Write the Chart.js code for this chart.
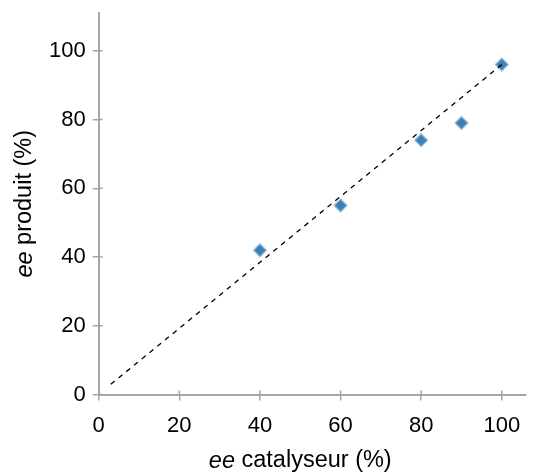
<!DOCTYPE html>
<html>
<head>
<meta charset="utf-8">
<script src="https://cdn.jsdelivr.net/npm/chart.js@4"></script>
<style>
  html, body { margin: 0; padding: 0; background: #fff; overflow: hidden; }
  canvas { display: block; }
</style>
</head>
<body>
<canvas id="chart" width="534" height="474"></canvas>
<script>
// Data
const catalystEe = [40, 60, 80, 90, 100];
const productEe = [42, 55, 74, 79, 96];
// dashed trend line endpoints
const trendX = [3, 100];
const trendY = [3, 96];
const tickValues = [0, 20, 40, 60, 80, 100];

const xTitle = ['ee', ' catalyseur (%)'];
const yTitle = ['ee', ' produit (%)'];

const FONT = 'Liberation Sans, Arial, sans-serif';
const AXIS_GREY = '#a6a6a6';
const TITLE_SIZE = 23.5;

// axis titles with italic "ee", plus short inward tick marks
const axisTitles = {
    id: 'axisTitles',
    afterDraw(chart) {
        const ctx = chart.ctx;
        const xs = chart.scales.x, ys = chart.scales.y;
        ctx.save();

        // inward tick stubs
        ctx.strokeStyle = AXIS_GREY;
        ctx.lineWidth = 1.5;
        ctx.beginPath();
        tickValues.forEach(v => {
            const px = xs.getPixelForValue(v);
            ctx.moveTo(px, ys.bottom);
            ctx.lineTo(px, ys.bottom - 4);
            const py = ys.getPixelForValue(v);
            ctx.moveTo(xs.left, py);
            ctx.lineTo(xs.left + 4, py);
        });
        ctx.stroke();

        ctx.fillStyle = '#000';
        ctx.textBaseline = 'middle';

        function drawParts(parts, cx, cy) {
            ctx.font = 'italic ' + TITLE_SIZE + 'px ' + FONT;
            const w0 = ctx.measureText(parts[0]).width;
            ctx.font = TITLE_SIZE + 'px ' + FONT;
            const w1 = ctx.measureText(parts[1]).width;
            let x = cx - (w0 + w1) / 2;
            ctx.textAlign = 'left';
            ctx.font = 'italic ' + TITLE_SIZE + 'px ' + FONT;
            ctx.fillText(parts[0], x, cy);
            ctx.font = TITLE_SIZE + 'px ' + FONT;
            ctx.fillText(parts[1], x + w0, cy);
        }

        // x title, centered on 0..100
        drawParts(xTitle, (xs.getPixelForValue(0) + xs.getPixelForValue(100)) / 2, 461);

        // y title, rotated, centered on the plot height
        ctx.translate(25, (ys.top + ys.bottom) / 2);
        ctx.rotate(-Math.PI / 2);
        drawParts(yTitle, 0, 0);
        ctx.restore();
    }
};

function keepTicks(scale) {
    scale.ticks = tickValues.map(v => ({ value: v }));
}

const ctx = document.getElementById('chart').getContext('2d');
new Chart(ctx, {
    type: 'scatter',
    data: {
        datasets: [
            {
                type: 'line',
                data: trendX.map((x, i) => ({ x: x, y: trendY[i] })),
                borderColor: '#000',
                borderWidth: 1.3,
                borderDash: [5, 5],
                pointRadius: 0,
                fill: false
            },
            {
                data: catalystEe.map((x, i) => ({ x: x, y: productEe[i] })),
                pointStyle: 'rectRot',
                pointRadius: 6,
                backgroundColor: '#3f7fb0',
                borderColor: 'rgba(90, 160, 210, 0.55)',
                borderWidth: 2
            }
        ]
    },
    options: {
        responsive: false,
        animation: false,
        layout: { padding: { left: 42, top: 13, right: 0, bottom: 23 } },
        plugins: {
            legend: { display: false },
            tooltip: { enabled: false }
        },
        scales: {
            x: {
                type: 'linear',
                min: 0,
                max: 106,
                afterBuildTicks: keepTicks,
                afterFit: s => { s.paddingRight = 0; },
                border: { color: AXIS_GREY, width: 2 },
                grid: { drawOnChartArea: false, color: AXIS_GREY, tickLength: 6, lineWidth: 1.5 },
                ticks: {
                    autoSkip: false,
                    maxRotation: 0,
                    padding: 12,
                    color: '#000',
                    font: { family: FONT, size: 22 }
                }
            },
            y: {
                min: 0,
                max: 111,
                afterBuildTicks: keepTicks,
                afterFit: s => { s.paddingTop = 0; },
                border: { color: AXIS_GREY, width: 2 },
                grid: { drawOnChartArea: false, color: AXIS_GREY, tickLength: 6, lineWidth: 1.5 },
                ticks: {
                    autoSkip: false,
                    padding: 7,
                    color: '#000',
                    font: { family: FONT, size: 22 }
                }
            }
        }
    },
    plugins: [axisTitles]
});
</script>
</body>
</html>
